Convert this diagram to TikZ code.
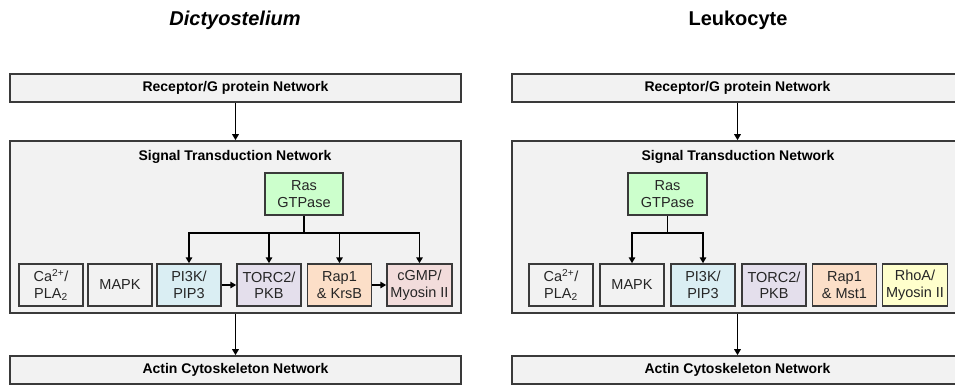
\documentclass[tikz,border=0pt]{standalone}
\usepackage{fontspec}
\setmainfont{Liberation Sans}
\usetikzlibrary{arrows.meta}
\definecolor{boxfill}{HTML}{F2F2F2}
\definecolor{edge}{HTML}{3A3A3A}
\definecolor{rasfill}{HTML}{CCFFCC}
\definecolor{pifill}{HTML}{DAEEF3}
\definecolor{torfill}{HTML}{E4DFEC}
\definecolor{rapfill}{HTML}{FCDFC8}
\definecolor{cgfill}{HTML}{F2DCDB}
\definecolor{rhofill}{HTML}{FFFFCC}
\tikzset{
  bigbox/.style={draw=edge, line width=1.6pt, fill=boxfill, minimum width=451pt, inner sep=0pt,
     font=\fontsize{14}{16}\selectfont\bfseries},
  small/.style={draw=edge, line width=1.5pt, fill=boxfill, minimum width=64pt, minimum height=42pt,
     inner sep=0pt, align=center, text=black!85, font=\fontsize{14.5}{16.5}\selectfont},
  hdr/.style={font=\fontsize{14}{16}\selectfont\bfseries, inner sep=0pt},
  ttl/.style={font=\fontsize{20}{22}\selectfont\bfseries, inner sep=0pt},
  arr/.style={line width=1.5pt, -{Triangle[length=6pt,width=6.5pt]}},
  ln/.style={line width=1.5pt}
}
\begin{document}
\begin{tikzpicture}[x=1pt,y=-1pt]
\clip (0,0) rectangle (955,384);
\fill[white] (0,0) rectangle (955,384);
% ---------- Left: Dictyostelium ----------
\node[ttl] (tL) at (235,20) {\itshape Dictyostelium};
\node[bigbox, minimum height=28pt] (recL) at (235.5,88) {Receptor/G protein Network};
\node[bigbox, minimum height=172pt] (sigL) at (235.5,227) {};
\node[hdr] (sigtL) at (235,157) {Signal Transduction Network};
\node[small, fill=rasfill, minimum width=78pt] (rasL) at (304,194) {Ras\\GTPase};
\node[small] (caL) at (51,285) {Ca\textsuperscript{2+}/\\PLA\textsubscript{2}};
\node[small] (mapkL) at (120,285) {MAPK};
\node[small, fill=pifill] (piL) at (189,285) {PI3K/\\PIP3};
\node[small, fill=torfill] (torL) at (269,285) {TORC2/\\PKB};
\node[small, fill=rapfill] (rapL) at (339.5,285) {Rap1\\\& KrsB};
\node[small, fill=cgfill, minimum width=65pt] (cgL) at (419.5,285) {cGMP/\\Myosin II};
\node[bigbox, minimum height=28pt] (actL) at (235.5,370) {Actin Cytoskeleton Network};
\coordinate (jL) at (304,233);
\draw[arr] (recL.south) -- (sigL.north);
\draw[arr] (sigL.south) -- (actL.north);
\draw[ln] (rasL.south) -- (jL);
\draw[arr] (jL) -| (piL.north);
\draw[arr] (jL) -| (torL.north);
\draw[arr] (jL) -| (rapL.north);
\draw[arr] (jL) -| (cgL.north);
\draw[arr] (piL.east) -- (torL.west);
\draw[arr] (rapL.east) -- (cgL.west);
% ---------- Right: Leukocyte ----------
\node[ttl] (tR) at (738,20) {Leukocyte};
\node[bigbox, minimum height=28pt] (recR) at (737.5,88) {Receptor/G protein Network};
\node[bigbox, minimum height=172pt] (sigR) at (737.5,227) {};
\node[hdr] (sigtR) at (738,157) {Signal Transduction Network};
\node[small, fill=rasfill, minimum width=79pt] (rasR) at (667.5,194) {Ras\\GTPase};
\node[small] (caR) at (561,285) {Ca\textsuperscript{2+}/\\PLA\textsubscript{2}};
\node[small] (mapkR) at (632,285) {MAPK};
\node[small, fill=pifill] (piR) at (703,285) {PI3K/\\PIP3};
\node[small, fill=torfill] (torR) at (774,285) {TORC2/\\PKB};
\node[small, fill=rapfill] (rapR) at (844.5,285) {Rap1\\\& Mst1};
\node[small, fill=rhofill, minimum width=65pt] (rhoR) at (915,285) {RhoA/\\Myosin II};
\node[bigbox, minimum height=28pt] (actR) at (737.5,370) {Actin Cytoskeleton Network};
\coordinate (jR) at (667.5,233);
\draw[arr] (recR.south) -- (sigR.north);
\draw[arr] (sigR.south) -- (actR.north);
\draw[ln] (rasR.south) -- (jR);
\draw[arr] (jR) -| (mapkR.north);
\draw[arr] (jR) -| (piR.north);
\end{tikzpicture}
\end{document}
